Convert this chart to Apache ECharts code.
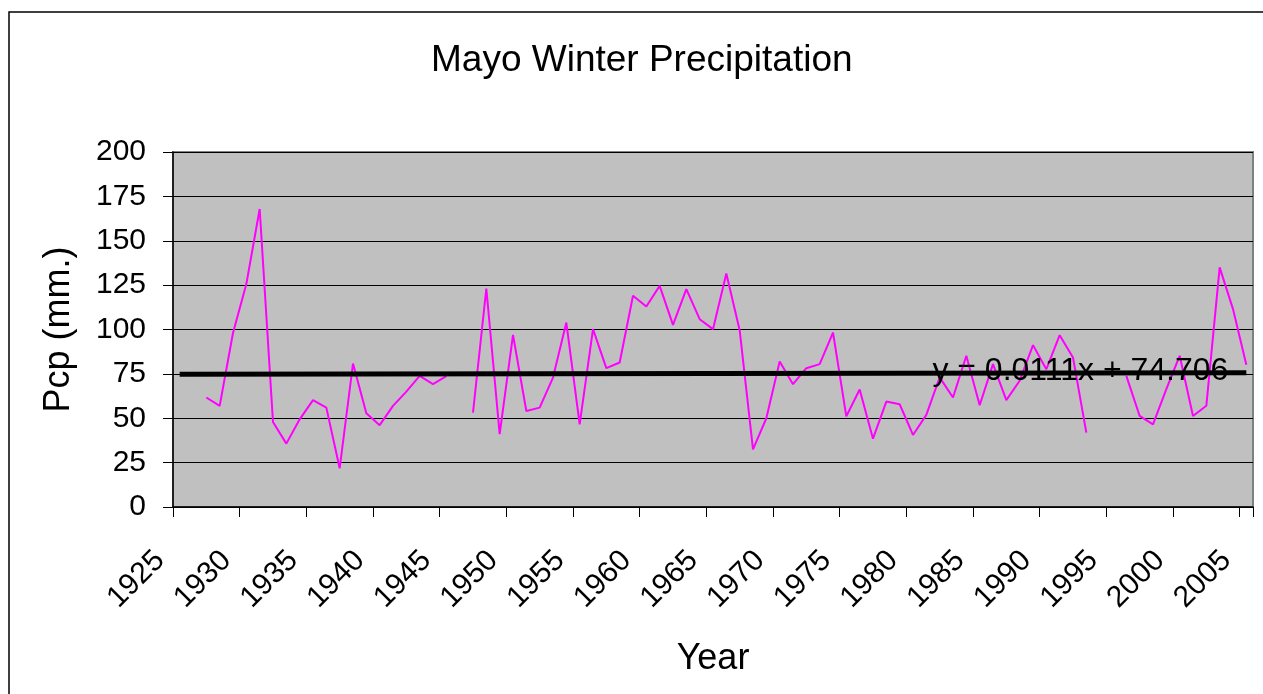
<!DOCTYPE html>
<html>
<head>
<meta charset="utf-8">
<title>Mayo Winter Precipitation</title>
<script src="https://cdn.jsdelivr.net/npm/echarts@6/dist/echarts.min.js"></script>
<style>
  html, body { margin: 0; padding: 0; background: #fff; }
  #main { width: 1263px; height: 694px; }
</style>
</head>
<body>
<div id="main"></div>
<script>
// years on the category axis (1925 .. 2005)
var years = ['1925', '1926', '1927', '1928', '1929', '1930', '1931', '1932', '1933', '1934',
    '1935', '1936', '1937', '1938', '1939', '1940', '1941', '1942', '1943', '1944',
    '1945', '1946', '1947', '1948', '1949', '1950', '1951', '1952', '1953', '1954',
    '1955', '1956', '1957', '1958', '1959', '1960', '1961', '1962', '1963', '1964',
    '1965', '1966', '1967', '1968', '1969', '1970', '1971', '1972', '1973', '1974',
    '1975', '1976', '1977', '1978', '1979', '1980', '1981', '1982', '1983', '1984',
    '1985', '1986', '1987', '1988', '1989', '1990', '1991', '1992', '1993', '1994',
    '1995', '1996', '1997', '1998', '1999', '2000', '2001', '2002', '2003', '2004',
    '2005'];

// winter precipitation, mm (null = no record)
var pcp = [null, null, 61.7, 57.0, 98, 125.6, 167.9, 47.9, 35.7, 49.4,
    60.2, 56.0, 21.8, 80.8, 52.8, 46.1, 57.0, 65.0, 73.9, 69.2,
    73.7, null, 53.2, 123.1, 41.0, 97.0, 54.1, 56.0, 72.9, 103.9,
    46.6, 100.2, 78.2, 81.4, 119.0, 113.0, 124.6, 102.6, 122.7, 105.8,
    100.2, 131.6, 99.6, 32.5, 50.0, 82.0, 69.2, 78.2, 80.5, 98.3,
    51.1, 66.2, 38.5, 59.4, 57.9, 40.6, 51.9, 73, 61.7, 85.2,
    57.3, 80.5, 60.2, 71.1, 91.2, 77.6, 96.8, 84.2, 41.9, null,
    null, 73.9, 51.3, 46.6, 66.4, 85.2, 51.3, 57.0, 135.0, 111.5,
    80.1];

// linear trend end values (y = 0.0111x + 74.706)
var trendEnds = [74.72, 75.61];
var trendLabel = 'y = 0.0111x + 74.706';

var yTicks = [0, 25, 50, 75, 100, 125, 150, 175, 200];

var trend = years.map(function (y, i) {
    if (i === 0) return trendEnds[0];
    if (i === years.length - 1) return trendEnds[1];
    return null;
});

var font = 'Liberation Sans, Arial, sans-serif';
var myChart = echarts.init(document.getElementById('main'));

var frame = {
    type: 'rect',
    shape: { x: 9, y: 12, width: 1300, height: 720 },
    style: { fill: 'none', stroke: '#000', lineWidth: 1.5 },
    z: -1
};

var option = {
    animation: false,
    title: {
        text: 'Mayo Winter Precipitation',
        left: 426,
        top: 37,
        textStyle: { fontFamily: font, fontSize: 37, fontWeight: 'normal', color: '#000' }
    },
    graphic: [frame],
    grid: {
        left: 173,
        right: 10,
        top: 152,
        bottom: 187,
        show: true,
        backgroundColor: '#c0c0c0',
        borderColor: '#808080',
        borderWidth: 2
    },
    xAxis: {
        type: 'category',
        data: years,
        boundaryGap: true,
        name: 'Year',
        nameLocation: 'middle',
        nameGap: 134,
        nameTextStyle: { fontFamily: font, fontSize: 36, color: '#000' },
        axisLine: { show: true, onZero: false, lineStyle: { color: '#000', width: 1.5 } },
        axisTick: {
            show: true,
            length: 10,
            interval: function (i) { return i % 5 === 0; },
            lineStyle: { color: '#000' }
        },
        axisLabel: {
            interval: 4,
            rotate: 45,
            margin: 29,
            padding: [0, 28, 0, 0],
            fontFamily: font,
            fontSize: 30,
            color: '#000'
        },
        splitLine: { show: false }
    },
    yAxis: {
        type: 'value',
        min: yTicks[0],
        max: yTicks[yTicks.length - 1],
        interval: 25,
        name: 'Pcp (mm.)',
        nameLocation: 'middle',
        nameRotate: 90,
        nameGap: 96,
        nameTextStyle: { fontFamily: font, fontSize: 36, color: '#000' },
        axisLine: { show: true, lineStyle: { color: '#000', width: 1.5 } },
        axisTick: { show: true, inside: false, length: 10, lineStyle: { color: '#000' } },
        axisLabel: { margin: 27, fontFamily: font, fontSize: 30, color: '#000' },
        splitLine: { show: true, lineStyle: { color: '#000', width: 1 } }
    },
    series: [
        {
            name: 'Pcp',
            type: 'line',
            data: pcp,
            showSymbol: false,
            symbol: 'none',
            connectNulls: false,
            lineStyle: { color: '#ff00ff', width: 2 },
            z: 3
        },
        {
            name: 'Trend',
            type: 'line',
            data: trend,
            connectNulls: true,
            symbol: 'none',
            showSymbol: false,
            lineStyle: { color: '#000', width: 5 },
            z: 4
        }
    ]
};

myChart.setOption(option);

// equation text sits just left of the trend line's right end
var endPt = myChart.convertToPixel({ seriesIndex: 1 }, [years.length - 1, trendEnds[1]]);
myChart.setOption({
    graphic: [frame, {
        type: 'text',
        x: endPt[0] - 18,
        y: endPt[1] - 2,
        z: 10,
        style: {
            text: trendLabel,
            fill: '#000',
            font: '32px ' + font,
            textAlign: 'right',
            textVerticalAlign: 'middle'
        }
    }]
});
</script>
</body>
</html>
